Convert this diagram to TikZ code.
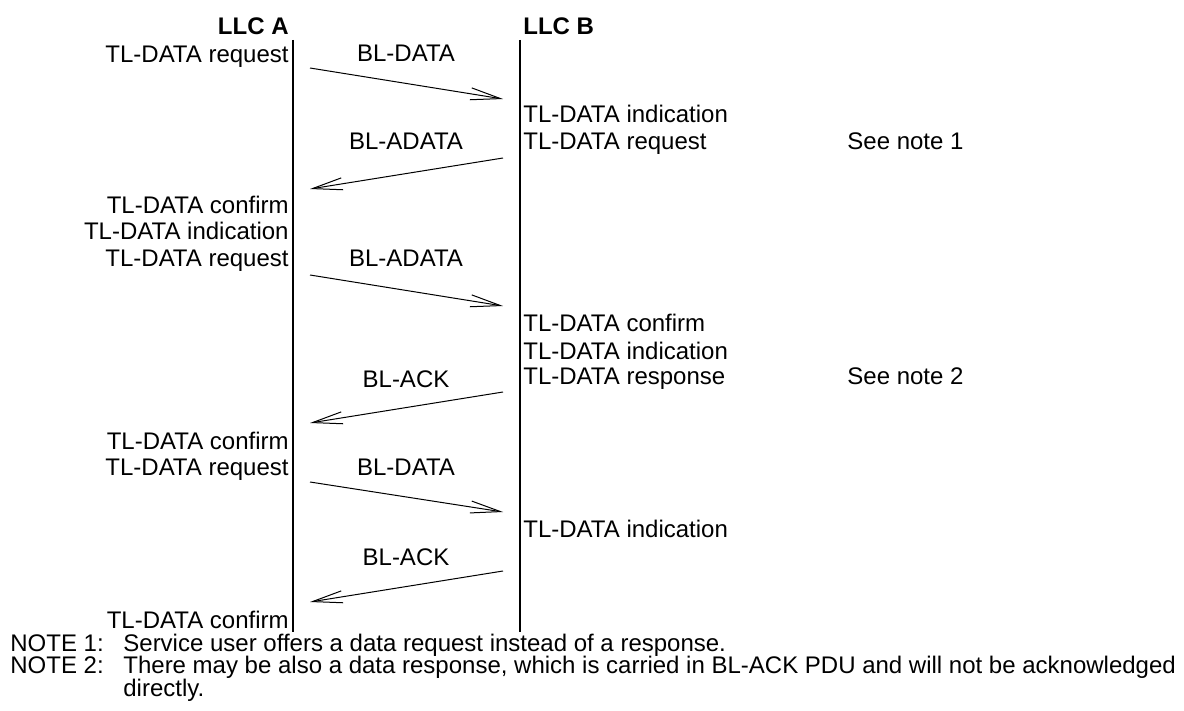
\documentclass[tikz,border=0pt]{standalone}
\usepackage{fontspec}
\setmainfont{Liberation Sans}
\usepackage{tikz}
\usetikzlibrary{arrows.meta}

\begin{document}
\begin{tikzpicture}[
    x=0.5pt, y=-0.5pt,
    % Lifeline of an LLC entity
    life/.style={draw=black, line width=1pt},
    % Heading above a lifeline
    llcHead/.style={font=\fontsize{12}{14}\selectfont\bfseries, inner sep=0pt},
    % Service primitive on the A side (right aligned)
    primA/.style={anchor=base east, inner sep=0pt,
        font=\fontsize{12}{14}\selectfont},
    % Service primitive on the B side (left aligned)
    primB/.style={anchor=base west, inner sep=0pt,
        font=\fontsize{12}{14}\selectfont},
    % PDU name over a message
    pduLabel/.style={anchor=base, inner sep=0pt,
        font=\fontsize{12}{14}\selectfont},
    % Note text below the chart
    noteText/.style={anchor=base west, inner sep=0pt,
        font=\fontsize{12}{14}\selectfont},
    % Message line
    msg/.style={draw=black, line width=0.5pt,
        -{Straight Barb[length=15pt, width=6pt]}}
]
\useasboundingbox (0,0) rectangle (1184,711);
% ── Lifelines ─────────────────────────────────────────────────
\coordinate (aTop) at (292.5, 40);
\coordinate (aBot) at (292.5, 632);
\coordinate (bTop) at (520, 40);
\coordinate (bBot) at (520, 632);
\draw[life] (aTop) -- (aBot);
\draw[life] (bTop) -- (bBot);
\node[llcHead, anchor=base east] (llcA) at (289, 35) {LLC A};
\node[llcHead, anchor=base west] (llcB) at (523, 35) {LLC B};
% ── LLC A primitives ──────────────────────────────────────────
\node[primA] (a1) at (289, 63)  {TL-DATA request};
\node[primA] (a2) at (289, 214) {TL-DATA confirm};
\node[primA] (a3) at (289, 240) {TL-DATA indication};
\node[primA] (a4) at (289, 267) {TL-DATA request};
\node[primA] (a5) at (289, 449) {TL-DATA confirm};
\node[primA] (a6) at (289, 475) {TL-DATA request};
\node[primA] (a7) at (289, 628) {TL-DATA confirm};
% ── LLC B primitives ──────────────────────────────────────────
\node[primB] (b1) at (523, 123) {TL-DATA indication};
\node[primB] (b2) at (523, 150) {TL-DATA request};
\node[primB] (b3) at (523, 332) {TL-DATA confirm};
\node[primB] (b4) at (523, 359) {TL-DATA indication};
\node[primB] (b5) at (523, 385) {TL-DATA response};
\node[primB] (b6) at (523, 537) {TL-DATA indication};
\node[primB] (see1) at (847, 150) {See note 1};
\node[primB] (see2) at (847, 385) {See note 2};
% ── PDU labels ────────────────────────────────────────────────
\node[pduLabel] (p1) at (406, 62)  {BL-DATA};
\node[pduLabel] (p2) at (406, 150) {BL-ADATA};
\node[pduLabel] (p3) at (406, 267) {BL-ADATA};
\node[pduLabel] (p4) at (406, 387) {BL-ACK};
\node[pduLabel] (p5) at (406, 475) {BL-DATA};
\node[pduLabel] (p6) at (406, 565) {BL-ACK};
% ── Message ends ──────────────────────────────────────────────
\coordinate (s1) at (310, 68);  \coordinate (e1) at (503, 99);
\coordinate (s2) at (503, 158); \coordinate (e2) at (310, 189);
\coordinate (s3) at (310, 275); \coordinate (e3) at (503, 306);
\coordinate (s4) at (503, 392); \coordinate (e4) at (310, 423);
\coordinate (s5) at (310, 482); \coordinate (e5) at (503, 512);
\coordinate (s6) at (503, 571); \coordinate (e6) at (310, 602);
\draw[msg] (s1) -- (e1);
\draw[msg] (s2) -- (e2);
\draw[msg] (s3) -- (e3);
\draw[msg] (s4) -- (e4);
\draw[msg] (s5) -- (e5);
\draw[msg] (s6) -- (e6);
% ── Notes ─────────────────────────────────────────────────────
\node[noteText] (n1) at (10, 651) {NOTE 1:};
\node[noteText] (n1t) at (123, 651)
    {Service user offers a data request instead of a response.};
\node[noteText] (n2) at (10, 673.5) {NOTE 2:};
\node[noteText] (n2t) at (123, 673.5)
    {There may be also a data response, which is carried in BL-ACK PDU and will not be acknowledged};
\node[noteText] (n2c) at (123, 696) {directly.};
\end{tikzpicture}
\end{document}
